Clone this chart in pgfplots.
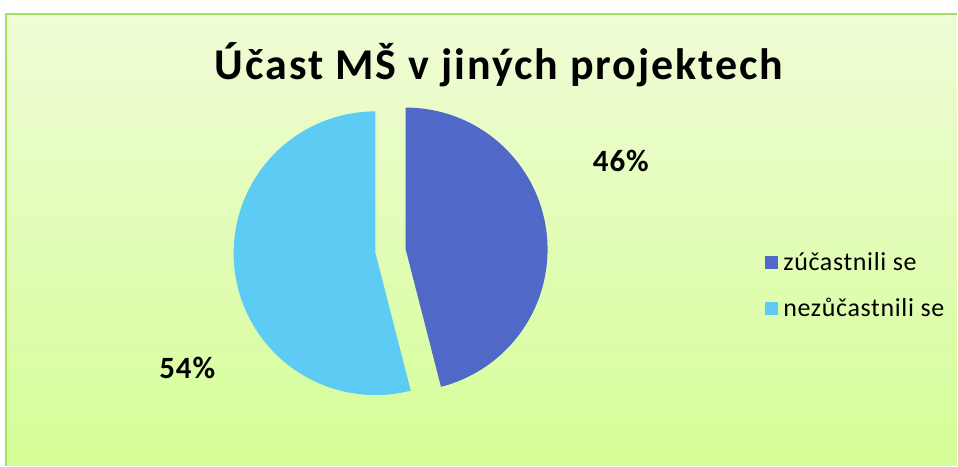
\documentclass[border=0pt]{standalone}
\usepackage{fontspec}
\setmainfont{Carlito}
\usepackage{pgfplots}
\usepackage{pgfplotstable}
\pgfplotsset{compat=1.18}
\definecolor{sliceA}{RGB}{80,104,200}
\definecolor{sliceB}{RGB}{93,203,243}
\definecolor{bgtop}{RGB}{239,252,214}
\definecolor{bgbot}{RGB}{213,254,151}
\definecolor{framec}{RGB}{160,226,96}

\pgfplotstableread{
label value
A 46
B 54
}\piedata
\pgfplotstablegetelem{0}{value}\of\piedata \let\va\pgfplotsretval
\pgfplotstablegetelem{1}{value}\of\piedata \let\vb\pgfplotsretval
\pgfmathsetmacro\aA{\va/(\va+\vb)*360}
\def\cx{391}\def\cy{214.4}\def\R{142}\def\ex{15.25}
\pgfmathsetmacro\mA{\aA/2}
\pgfmathsetmacro\mB{(\aA+360)/2}
\pgfmathsetmacro\ax{\cx+\ex*sin(\mA)}
\pgfmathsetmacro\ay{\cy+\ex*cos(\mA)}
\pgfmathsetmacro\bx{\cx+\ex*sin(\mB)}
\pgfmathsetmacro\by{\cy+\ex*cos(\mB)}

\begin{document}
\begin{tikzpicture}
\begin{axis}[
  x=1pt, y=1pt,
  xmin=0, xmax=958, ymin=0, ymax=466,
  hide axis, clip=false,
  legend image code/.code={\fill[#1] (0pt,-6.5pt) rectangle (13pt,6.5pt);},
  legend style={draw=none, fill=none, at={(axis cs:763,216)}, anchor=north west,
    font=\fontsize{26}{30}\selectfont\addfontfeatures{LetterSpace=2.5}, row sep=24pt, column sep=4pt,
    nodes={inner sep=1pt}},
  legend cell align=left,
]
\fill[white] (axis cs:0,0) rectangle (axis cs:958,466);
\path[top color=bgtop, bottom color=bgbot] (axis cs:6,0) rectangle (axis cs:958,452);
\draw[framec, line width=2pt] (axis cs:6,0) -- (axis cs:6,452) -- (axis cs:958,452);

\addplot[draw=none, fill=sliceA, domain=0:\aA, samples=180, variable=\t]
  ({\ax+\R*sin(\t)},{\ay+\R*cos(\t)}) -- (axis cs:\ax,\ay) -- cycle;
\addlegendentry{zúčastnili se}
\addplot[draw=none, fill=sliceB, domain=\aA:360, samples=180, variable=\t]
  ({\bx+\R*sin(\t)},{\by+\R*cos(\t)}) -- (axis cs:\bx,\by) -- cycle;
\addlegendentry{nezůčastnili se}

\node[anchor=base, font=\fontsize{44}{50}\selectfont\bfseries\addfontfeatures{LetterSpace=4.5}] at (axis cs:499.7,386) {Účast MŠ v jiných projektech};
\node[anchor=base, font=\fontsize{31}{36}\selectfont\bfseries\addfontfeatures{LetterSpace=3}] at (axis cs:621.5,294.3) {\va\%};
\node[anchor=base, font=\fontsize{31}{36}\selectfont\bfseries\addfontfeatures{LetterSpace=3}] at (axis cs:187.5,87) {\vb\%};
\end{axis}
\end{tikzpicture}
\end{document}
